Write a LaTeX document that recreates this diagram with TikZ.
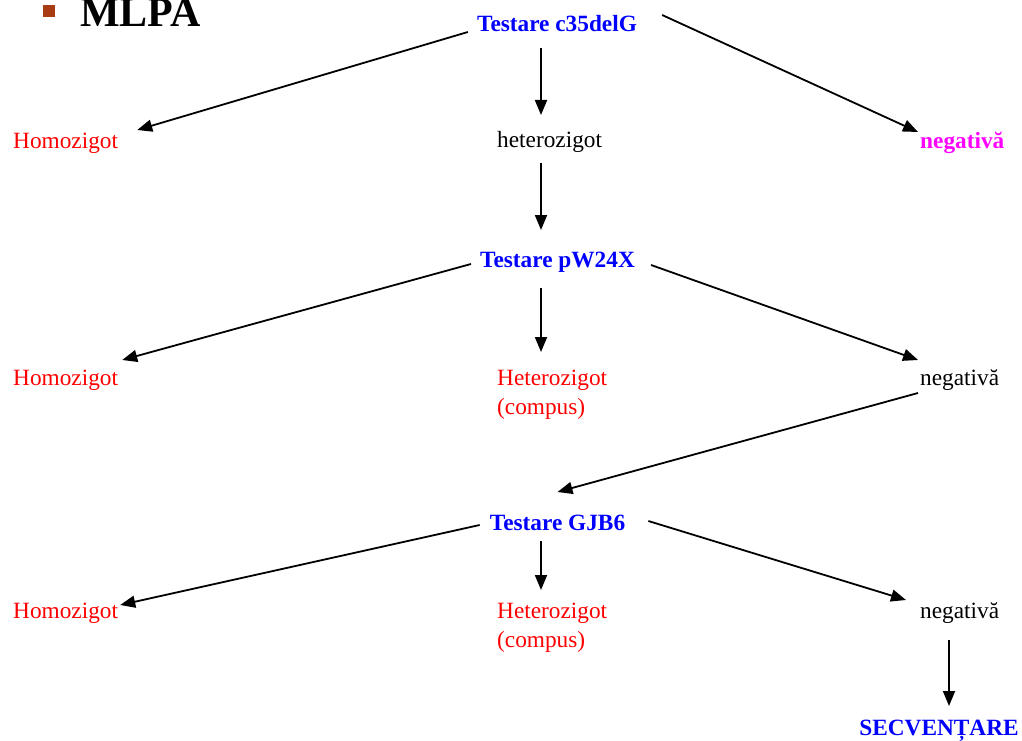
\documentclass[tikz,border=0pt]{standalone}
\usepackage{fontspec}
\setmainfont{Liberation Serif}
\usetikzlibrary{arrows.meta}
\definecolor{testblue}{HTML}{0000FF}
\definecolor{resred}{HTML}{FF0000}
\definecolor{negmag}{HTML}{FF00FF}
\definecolor{bulletrust}{HTML}{A83A14}
\tikzset{
  lbl/.style={inner sep=0pt, anchor=base west, font=\fontsize{23.3}{28}\selectfont},
  testlbl/.style={inner sep=0pt, anchor=base, text=testblue, font=\fontsize{23.3}{28}\selectfont\bfseries},
  redlbl/.style={lbl, text=resred},
  arr/.style={line width=1.8pt, -{Triangle[length=15pt,width=12pt]}}
}
\begin{document}
\begin{tikzpicture}[x=1pt,y=-1pt]
\useasboundingbox (0,0) rectangle (1022,741);

% slide heading
\fill[bulletrust] (43,5) rectangle (55,17);
\node[inner sep=0pt, anchor=base west, font={\fontsize{42}{46}\selectfont\bfseries}] (title) at (80,27) {MLPA};

% first test
\node[testlbl] (t1) at (557,32) {Testare c35delG};
\node[redlbl] (h1) at (13,148) {Homozigot};
\node[lbl] (het1) at (497,147) {heterozigot};
\node[lbl, text=negmag, font=\fontsize{23.3}{28}\selectfont\bfseries] (neg1) at (920,148) {negativă};

% second test
\node[testlbl] (t2) at (557.5,267) {Testare pW24X};
\node[redlbl] (h2) at (13,385) {Homozigot};
\node[redlbl] (het2) at (497,385) {Heterozigot};
\node[redlbl] (het2b) at (497,414) {(compus)};
\node[lbl] (neg2) at (920,385) {negativă};

% third test
\node[testlbl] (t3) at (557.5,530) {Testare GJB6};
\node[redlbl] (h3) at (13,618) {Homozigot};
\node[redlbl] (het3) at (497,618) {Heterozigot};
\node[redlbl] (het3b) at (497,647) {(compus)};
\node[lbl] (neg3) at (920,618) {negativă};

\node[testlbl] (sec) at (939,735) {SECVENȚARE};

% connectors
\draw[arr] ([shift={(-9,0)}]t1.base west) -- ([shift={(19,-18)}]h1.base east);
\draw[arr] ([shift={(-16,16)}]t1.base) -- ([shift={(44,-32)}]het1.base west);
\draw[arr] ([shift={(25,-17)}]t1.base east) -- ([shift={(-2,-16)}]neg1.base west);

\draw[arr] ([shift={(44,16)}]het1.base west) -- ([shift={(-16.5,-37)}]t2.base);

\draw[arr] ([shift={(-9,-3)}]t2.base west) -- ([shift={(4,-25)}]h2.base east);
\draw[arr] ([shift={(-16.5,21)}]t2.base) -- ([shift={(44,-33)}]het2.base west);
\draw[arr] ([shift={(16,-2)}]t2.base east) -- ([shift={(-2,-25)}]neg2.base west);

\draw[arr] ([shift={(-2,8)}]neg2.base west) -- ([shift={(0,-38)}]t3.base);

\draw[arr] ([shift={(-10,-5)}]t3.base west) -- ([shift={(2,-13)}]h3.base east);
\draw[arr] ([shift={(-16.5,11)}]t3.base) -- ([shift={(44,-28)}]het3.base west);
\draw[arr] ([shift={(23,-9)}]t3.base east) -- ([shift={(-14,-18)}]neg3.base west);

\draw[arr] ([shift={(29,22)}]neg3.base west) -- ([shift={(10,-29)}]sec.base);
\end{tikzpicture}
\end{document}
